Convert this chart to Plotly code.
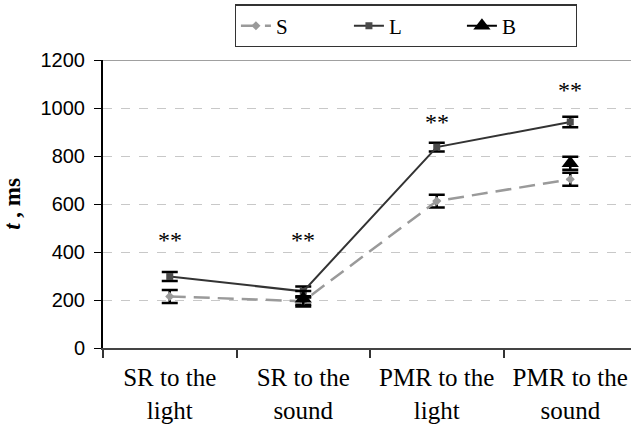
import plotly.graph_objects as go

categories = ["SR to the<br>light", "SR to the<br>sound", "PMR to the<br>light", "PMR to the<br>sound"]

s_values = [215, 195, 612, 703]
s_errors = [27, 15, 27, 27]

l_values = [298, 236, 837, 942]
l_errors = [19, 20, 18, 22]

b_values = [None, 205, None, 770]
b_errors = [None, 32, None, 27]

star_labels = ["**", "**", "**", "**"]
star_heights = [450, 450, 940, 1075]

y_ticks = [0, 200, 400, 600, 800, 1000, 1200]

serif = "Liberation Serif, Times New Roman, serif"
sans = "Liberation Sans, Arial, sans-serif"

fig = go.Figure()

err_style = dict(type="data", color="black", thickness=2.5, width=8, visible=True)

fig.add_trace(go.Scatter(
    x=categories, y=s_values, name="S", mode="lines+markers",
    line=dict(color="#9a9a9a", width=2.5, dash="16px,8px"),
    marker=dict(symbol="diamond", size=7, color="#9a9a9a"),
    error_y=dict(array=s_errors, **err_style),
))
fig.add_trace(go.Scatter(
    x=categories, y=l_values, name="L", mode="lines+markers",
    line=dict(color="#333333", width=2),
    marker=dict(symbol="square", size=7, color="#4a4a4a"),
    error_y=dict(array=l_errors, **err_style),
))
fig.add_trace(go.Scatter(
    x=categories, y=b_values, name="B", mode="lines+markers",
    line=dict(color="black", width=2),
    marker=dict(symbol="triangle-up", size=15, color="black"),
    error_y=dict(array=b_errors, **err_style),
    connectgaps=False,
))

for cat, txt, h in zip(categories, star_labels, star_heights):
    fig.add_annotation(x=cat, y=h, text=txt, showarrow=False,
                       font=dict(family=serif, size=24, color="black"))

# solid grey upper border of the plotting area
fig.add_shape(type="line", xref="paper", yref="y", x0=0, x1=1, y0=1200, y1=1200,
              line=dict(color="#a0a0a0", width=2))

fig.update_layout(
    width=631, height=438,
    margin=dict(l=103, r=0, t=60, b=90),
    paper_bgcolor="white", plot_bgcolor="white",
    showlegend=True,
    legend=dict(
        orientation="h", x=0.372, xanchor="left", xref="container",
        y=0.99, yanchor="top", yref="container",
        bordercolor="#333333", borderwidth=1.2,
        font=dict(family=serif, size=21, color="black"),
        entrywidth=68, entrywidthmode="pixels", tracegroupgap=0,
    ),
    xaxis=dict(
        range=[-0.5, 3.455], automargin=False,
        showline=True, linecolor="#444444", linewidth=2,
        ticks="outside", tickson="boundaries", ticklen=8, tickcolor="#333333", tickwidth=1.5,
        showgrid=False, ticklabelstandoff=6,
        tickfont=dict(family=serif, size=25, color="black"),
    ),
    yaxis=dict(
        range=[0, 1200], tickvals=y_ticks, automargin=False,
        showline=True, linecolor="black", linewidth=2,
        ticks="outside", ticklen=7, tickcolor="black", ticklabelstandoff=5,
        showgrid=True, gridcolor="#c8c8c8", griddash="dash", gridwidth=1,
        zeroline=False,
        tickfont=dict(family=sans, size=20, color="black"),
        title=dict(text="<b><i>t</i> , ms</b>", font=dict(family=serif, size=23, color="black"), standoff=20),
    ),
)

fig.write_html("out.html")
